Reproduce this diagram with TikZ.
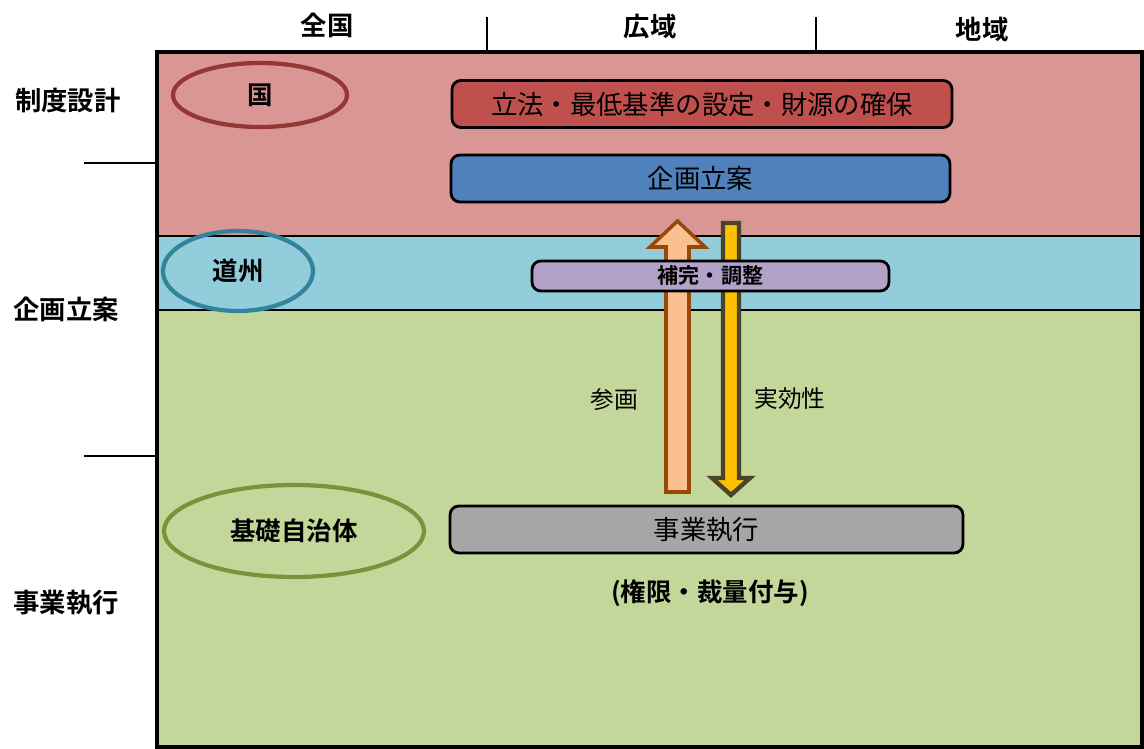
\documentclass[tikz,border=0pt]{standalone}
\usepackage{fontspec}
\setmainfont{Noto Sans CJK JP}[BoldFont={Noto Sans CJK JP Bold}]
\usepackage{tikz}
\definecolor{bandred}{HTML}{DA9694}
\definecolor{bandcyan}{HTML}{92CDDC}
\definecolor{bandgreen}{HTML}{C4D79B}
\definecolor{boxred}{HTML}{C0504D}
\definecolor{boxblue}{HTML}{4F81BD}
\definecolor{boxpurple}{HTML}{B2A2C7}
\definecolor{boxgray}{HTML}{A6A6A6}
\definecolor{ringred}{HTML}{943634}
\definecolor{ringcyan}{HTML}{31849B}
\definecolor{ringgreen}{HTML}{77933C}
\definecolor{uparrowfill}{HTML}{FAC090}
\definecolor{uparrowline}{HTML}{984807}
\definecolor{downarrowfill}{HTML}{FFC000}
\definecolor{downarrowline}{HTML}{4A452A}
\tikzset{
  task/.style={draw=black, line width=1.6pt, rounded corners=5pt, font=\fontsize{15}{18}\selectfont, inner sep=0pt},
  actor/.style={font=\bfseries\fontsize{14.5}{17}\selectfont},
  head/.style={font=\bfseries\fontsize{15}{18}\selectfont},
  note/.style={font=\fontsize{13.5}{16}\selectfont},
}
\begin{document}
\begin{tikzpicture}[x=0.02cm, y=-0.02cm]
\useasboundingbox (0,0) rectangle (1144,749);
% bands
\fill[bandred] (157,52) rectangle (1142,236);
\fill[bandcyan] (157,236) rectangle (1142,310);
\fill[bandgreen] (157,310) rectangle (1142,747);
\draw[line width=0.9pt] (157,236) -- (1142,236) (157,310) -- (1142,310);
\draw[line width=1.8pt] (157,52) rectangle (1142,747);
% column heads
\draw[line width=0.8pt] (487,17) -- (487,52) (816,17) -- (816,52);
\node[head] (zenkoku) at (327,25) {全国};
\node[head] (koiki) at (650,27) {広域};
\node[head] (chiiki) at (982,29) {地域};
% row heads
\draw[line width=0.8pt] (84,163) -- (157,163) (84,456) -- (157,456);
\node[head] (seido) at (68,101) {制度設計};
\node[head] (kikaku) at (66,309) {企画立案};
\node[head] (jigyo) at (66,603) {事業執行};
% actors
\draw[ringred, line width=2.4pt] (260,95) ellipse [x radius=87, y radius=32];
\node[actor] (kuni) at (260,95) {国};
\draw[ringcyan, line width=2.4pt] (238,271) ellipse [x radius=75, y radius=40];
\node[actor] (doshu) at (238,271) {道州};
\draw[ringgreen, line width=2.4pt] (294,531) ellipse [x radius=130, y radius=46];
\node[actor] (kiso) at (294,531) {基礎自治体};
% arrows
\draw[uparrowline, fill=uparrowfill, line width=2pt, line join=miter]
  (666,492) -- (666,247) -- (650,247) -- (677.5,221) -- (705,247) -- (689,247) -- (689,492) -- cycle;
\draw[downarrowline, fill=downarrowfill, line width=2.5pt, line join=miter]
  (723,223) -- (739,223) -- (739,478) -- (750,478) -- (731,495) -- (712,478) -- (723,478) -- cycle;
\node[note] (sankaku) at (614,400) {参画};
\node[note] (jikkou) at (790,399) {実効性};
% tasks
\node[task, fill=boxred, minimum width=10cm, minimum height=0.94cm] (rippo) at (702,104) {立法・最低基準の設定・財源の確保};
\node[task, fill=boxblue, minimum width=9.98cm, minimum height=0.94cm] (plan) at (700.5,178.5) {企画立案};
\node[task, fill=boxpurple, minimum width=7.14cm, minimum height=0.6cm, font=\bfseries\fontsize{12}{14}\selectfont] (hokan) at (710.5,276) {補完・調整};
\node[task, fill=boxgray, minimum width=10.26cm, minimum height=0.94cm] (exec) at (706.5,529.5) {事業執行};
\node[note, font=\bfseries\fontsize{14.5}{17}\selectfont] (kengen) at (710,593) {(権限・裁量付与)};
\end{tikzpicture}
\end{document}
